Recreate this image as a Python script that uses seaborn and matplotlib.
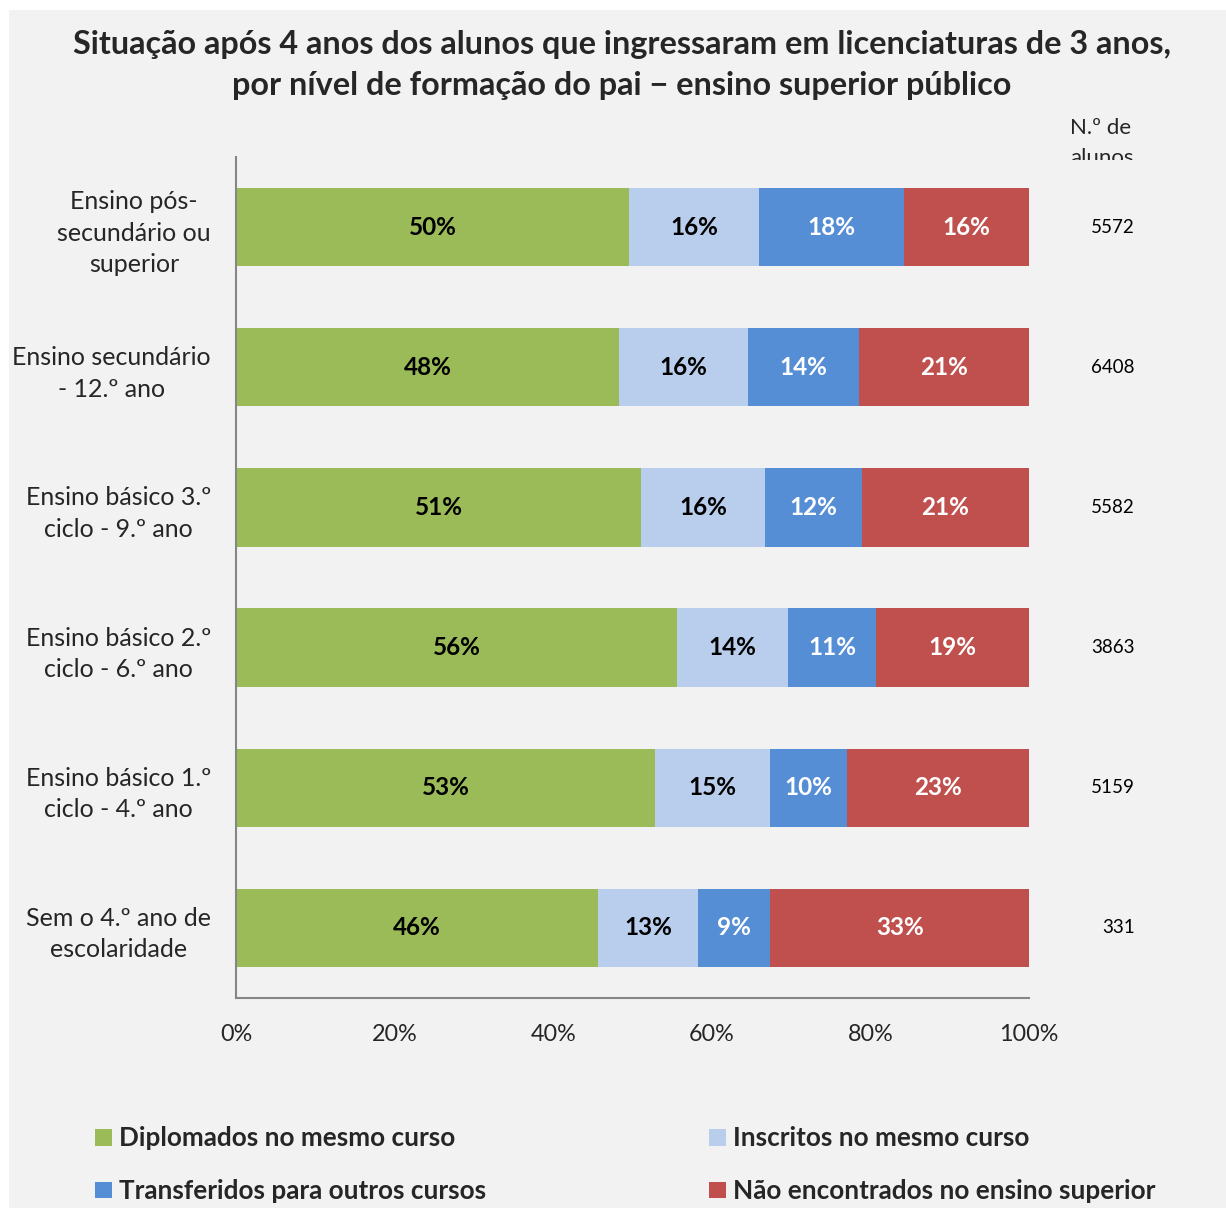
import numpy as np
import pandas as pd
import seaborn as sns
import matplotlib.pyplot as plt
from matplotlib.patches import Rectangle, Patch
from matplotlib.transforms import Bbox, TransformedBbox

# Data (percent of students)
categories = [
    "Ensino pós-\nsecundário ou\nsuperior",
    "Ensino secundário\n- 12.º ano",
    "Ensino básico 3.º\nciclo - 9.º ano",
    "Ensino básico 2.º\nciclo - 6.º ano",
    "Ensino básico 1.º\nciclo - 4.º ano",
    "Sem o 4.º ano de\nescolaridade",
]
diplomados = [49.6, 48.3, 51.1, 55.6, 52.8, 45.6]
inscritos = [16.3, 16.3, 15.6, 14.0, 14.6, 12.7]
transferidos = [18.4, 14.0, 12.2, 11.1, 9.6, 9.1]
nao_encontrados = [15.7, 21.4, 21.1, 19.3, 23.0, 32.6]
n_alunos = [5572, 6408, 5582, 3863, 5159, 331]

series_names = ["Diplomados no mesmo curso", "Inscritos no mesmo curso",
                "Transferidos para outros cursos", "Não encontrados no ensino superior"]
colors = ["#9bbb59", "#b9cdec", "#558ed5", "#c0504d"]
text_colors = ["black", "black", "white", "white"]

df = pd.DataFrame({
    "cat": categories,
    series_names[0]: diplomados,
    series_names[1]: inscritos,
    series_names[2]: transferidos,
    series_names[3]: nao_encontrados,
})
cum = df[series_names].cumsum(axis=1)

sns.set_style("white")
plt.rcParams['font.family'] = ['Lato', 'DejaVu Sans']

fig = plt.figure(figsize=(12.26, 12.08), dpi=100)
fig.patch.set_facecolor("white")
fig.patches.append(Rectangle((9 / 1226, 0), 1, 1 - 10 / 1208, transform=fig.transFigure,
                             facecolor="#f2f2f2", edgecolor="none", zorder=-10))

ax = fig.add_axes([236 / 1226, 1 - 998 / 1208, (1029 - 236) / 1226, (998 - 157) / 1208])
ax.set_facecolor("none")

# stacked bars: draw cumulative totals from the back to the front
for i in reversed(range(4)):
    sns.barplot(x=cum[series_names[i]], y=df["cat"], color=colors[i], orient="h",
                width=0.56, saturation=1, edgecolor="none", ax=ax)

# segment labels
for i, name in enumerate(series_names):
    for j in range(len(categories)):
        v = df[name].iloc[j]
        ax.text(cum[name].iloc[j] - v / 2, j, f"{v:.0f}%", ha="center", va="center",
                color=text_colors[i], fontsize=17.5, fontweight="bold")

# number of students on the right
for j, n in enumerate(n_alunos):
    ax.text(113.3, j, str(n), ha="right", va="center", fontsize=13.5, color="black")

# column header, cut off at the bottom like in the original
t = fig.text(1070 / 1226, 1 - 118 / 1208, "N.º de\nalunos", ha="left", va="top",
             fontsize=16, linespacing=1.6)
t.set_clip_on(True)
t.set_clip_box(TransformedBbox(Bbox([[0, 1 - 160 / 1208], [1, 1]]), fig.transFigure))

ax.set_xlim(0, 100)
ax.set_ylim(5.5, -0.5)
ax.set_xticks(np.arange(0, 101, 20))
ax.set_xticklabels([f"{v}%" for v in range(0, 101, 20)], fontsize=16.8)
ax.set_yticks(range(len(categories)))
ax.set_yticklabels(categories, fontsize=18, ha="right", multialignment="center",
                   linespacing=1.45)
ax.set_yticks(np.arange(-0.5, 6, 1), minor=True)
ax.tick_params(axis="y", which="major", length=0, pad=18)
ax.tick_params(axis="y", which="minor", length=5, width=1.5, color="#868686", direction="out")
ax.tick_params(axis="x", length=5, width=1.5, color="#868686", direction="out", pad=14)
ax.set_xlabel("")
ax.set_ylabel("")
for s in ["top", "right"]:
    ax.spines[s].set_visible(False)
for s in ["left", "bottom"]:
    ax.spines[s].set_color("#868686")
    ax.spines[s].set_linewidth(1.5)

fig.text(0.507, 1 - 65 / 1208,
         "Situação após 4 anos dos alunos que ingressaram em licenciaturas de 3 anos,\n"
         "por nível de formação do pai \u2212 ensino superior público",
         ha="center", va="center", fontsize=23.3, fontweight="bold", linespacing=1.5)

handles = [Patch(facecolor=c, edgecolor="none") for c in colors]
order = [0, 2, 1, 3]
fig.legend([handles[k] for k in order], [series_names[k] for k in order],
           loc="upper left", bbox_to_anchor=(85 / 1226, 1 - 1116 / 1208), ncol=2,
           frameon=False, prop={"weight": "bold", "size": 18.8},
           handlelength=0.62, handleheight=0.62, handletextpad=0.28,
           columnspacing=8.55, labelspacing=1.1, borderaxespad=0)

fig.savefig("out.png", dpi=100, facecolor=fig.get_facecolor())
